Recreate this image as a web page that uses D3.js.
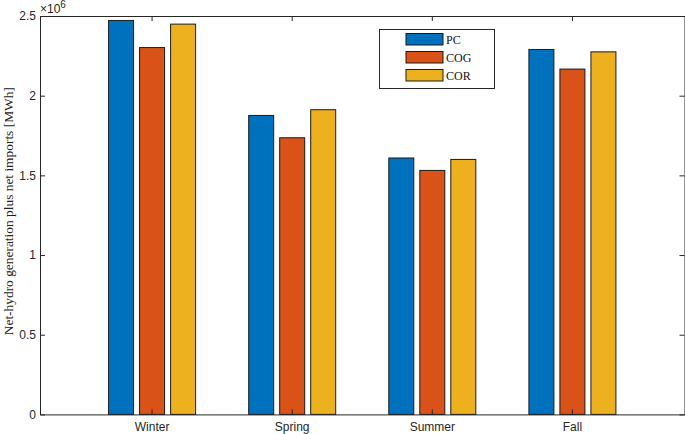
<!DOCTYPE html>
<html><head><meta charset="utf-8">
<script src="https://cdn.jsdelivr.net/npm/d3@7"></script>
<style>body{margin:0;background:#fff}svg{display:block}</style>
</head><body>
<svg id="c" width="685" height="434"></svg>
<script>
const categories = ["Winter", "Spring", "Summer", "Fall"];
const series = ["PC", "COG", "COR"];
const PC  = [2.472e6, 1.876e6, 1.609e6, 2.290e6];
const COG = [2.302e6, 1.736e6, 1.531e6, 2.167e6];
const COR = [2.449e6, 1.912e6, 1.600e6, 2.275e6];
const yTicks = [0, 0.5e6, 1e6, 1.5e6, 2e6, 2.5e6];
const colors = ["#0072BD", "#D95319", "#EDB120"];

const values = {PC, COG, COR};
const svg = d3.select("#c");
const L = 40, R = 684.5, T = 16, B = 414.4;
const axisColor = "#262626";

const x = d3.scaleBand().domain(categories).range([L, R]).paddingInner(0).paddingOuter(0.3);
const step = x.step();
const xs = d3.scaleBand().domain(series).range([-0.332*step, 0.332*step]).paddingInner(0.194).paddingOuter(0.097);
const y = d3.scaleLinear().domain([0, 2.5e6]).range([B, T]);

// bars
categories.forEach((c, i) => {
  const cx = x(c) + x.bandwidth()/2;
  svg.append("g").selectAll("rect").data(series).join("rect")
    .attr("x", s => cx + xs(s))
    .attr("width", xs.bandwidth())
    .attr("y", s => y(values[s][i]))
    .attr("height", s => B - y(values[s][i]))
    .attr("fill", (s, k) => colors[k])
    .attr("stroke", "#1a1a1a").attr("stroke-width", 1);
});

function styleAxis(g) {
  g.select(".domain").attr("stroke", axisColor).attr("stroke-width", 1);
  g.selectAll(".tick line").attr("stroke", axisColor).attr("stroke-width", 1);
  g.selectAll("text").attr("fill", "#262626").attr("font-family", "Liberation Sans, Arial, sans-serif").attr("font-size", 12);
}

svg.append("g").attr("transform", `translate(0,${B})`)
  .call(d3.axisBottom(x).tickSizeInner(-5).tickSizeOuter(0).tickPadding(8)).call(styleAxis);
svg.append("g").attr("transform", `translate(0,${T})`)
  .call(d3.axisTop(x).tickSizeInner(-5).tickSizeOuter(0).tickFormat("")).call(styleAxis);
svg.append("g").attr("transform", `translate(${L},0)`)
  .call(d3.axisLeft(y).tickValues(yTicks).tickSizeInner(-5).tickSizeOuter(0).tickPadding(4)
    .tickFormat(d => d3.format("~g")(d/1e6))).call(styleAxis);
svg.append("g").attr("transform", `translate(${R},0)`)
  .call(d3.axisRight(y).tickValues(yTicks).tickSizeInner(-5).tickSizeOuter(0).tickFormat("")).call(styleAxis);

// exponent
const ex = svg.append("text").attr("x", 40).attr("y", 13)
  .attr("font-family", "Liberation Sans, Arial, sans-serif").attr("font-size", 12).attr("fill", "#262626");
ex.append("tspan").text("\u00d710");
ex.append("tspan").attr("dy", -5).attr("font-size", 10).text("6");

// y label
svg.append("text").attr("transform", `translate(13,${(T+B)/2 - 4}) rotate(-90)`)
  .attr("text-anchor", "middle").attr("font-family", "Liberation Serif, Times New Roman, serif")
  .attr("font-size", 13.4).attr("fill", "#222")
  .text("Net-hydro generation plus net imports [MWh]");

// legend
const lg = svg.append("g").attr("transform", "translate(379,29)");
lg.append("rect").attr("x", 0.5).attr("y", 0.5).attr("width", 115).attr("height", 59)
  .attr("fill", "#fff").attr("stroke", "#262626").attr("stroke-width", 1);
series.forEach((s, k) => {
  lg.append("rect").attr("x", 27).attr("y", 4.5 + k*18).attr("width", 37).attr("height", 11.5)
    .attr("fill", colors[k]).attr("stroke", "#1a1a1a").attr("stroke-width", 1);
  lg.append("text").attr("x", 67).attr("y", 14.5 + k*18)
    .attr("font-family", "Liberation Serif, Times New Roman, serif").attr("font-size", 12).attr("fill", "#111")
    .text(s);
});
</script>
</body></html>
